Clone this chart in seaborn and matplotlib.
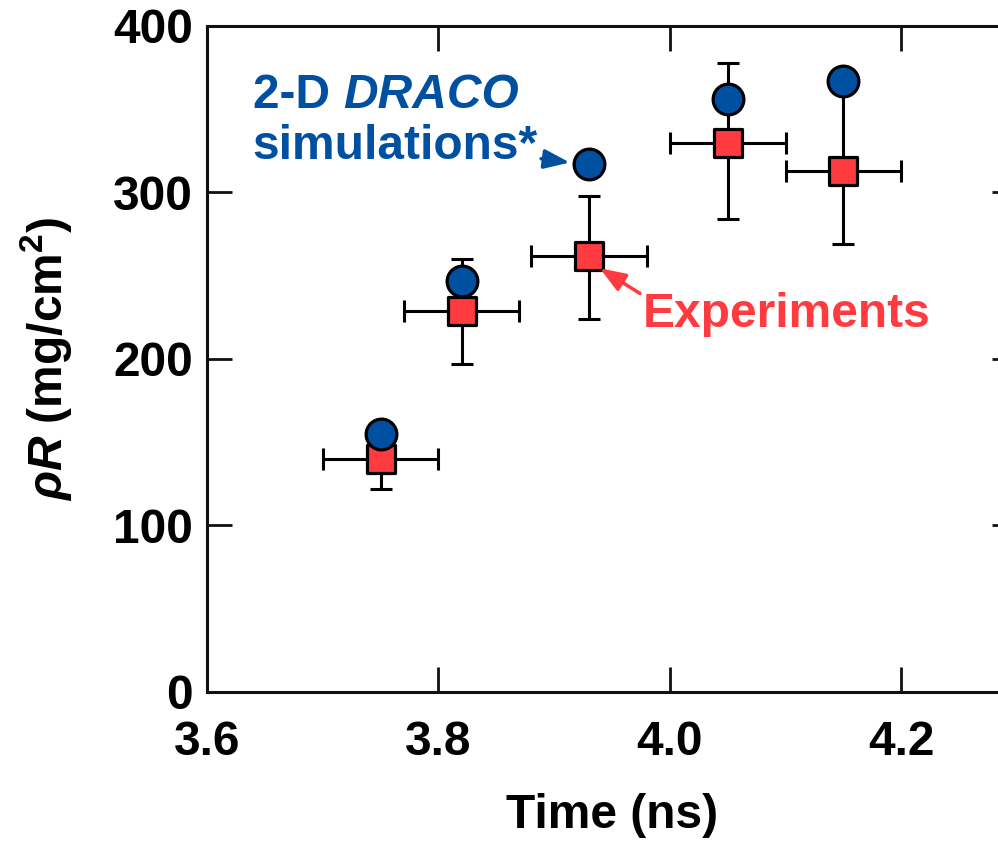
import matplotlib
matplotlib.use("Agg")
import matplotlib.pyplot as plt
import seaborn as sns
import pandas as pd
import numpy as np

# ---- data ----
time_ns = [3.75, 3.82, 3.93, 4.05, 4.15]
sim_rhoR = [155, 247, 317, 356, 367]
exp_rhoR = [140, 229, 262, 330, 313]
exp_low = [122, 197, 224, 284, 269]
exp_high = [158, 260, 298, 378, 365]
exp_xerr = [0.05, 0.05, 0.05, 0.05, 0.05]
x_ticks = [3.6, 3.8, 4.0, 4.2]
x_ticklabels = ["3.6", "3.8", "4.0", "4.2"]
y_ticks = [0, 100, 200, 300, 400]

BLUE = "#0050A2"
RED = "#FF3B40"

sns.set_style("ticks")
plt.rcParams["font.family"] = ["Liberation Sans", "DejaVu Sans"]
plt.rcParams["font.weight"] = "bold"
plt.rcParams["text.color"] = "black"
plt.rcParams["axes.labelcolor"] = "black"
plt.rcParams["xtick.color"] = "black"
plt.rcParams["ytick.color"] = "black"
plt.rcParams["mathtext.fontset"] = "custom"
plt.rcParams["mathtext.rm"] = "Liberation Sans:bold"
plt.rcParams["mathtext.it"] = "Liberation Sans:italic:bold"
plt.rcParams["mathtext.bf"] = "Liberation Sans:bold"

df = pd.DataFrame({"time": time_ns, "sim": sim_rhoR, "exp": exp_rhoR,
                   "lo": exp_low, "hi": exp_high, "xerr": exp_xerr})

fig = plt.figure(figsize=(9.98, 8.41), dpi=100)
ax = fig.add_axes([0.2074, 0.1772, 0.8116, 0.7919])

yerr = np.vstack([df["exp"] - df["lo"], df["hi"] - df["exp"]])
ax.errorbar(df["time"], df["exp"], xerr=df["xerr"], yerr=yerr, fmt="none",
            ecolor="black", elinewidth=2.2, capsize=8, capthick=2.2, zorder=2)

sns.scatterplot(data=df, x="time", y="exp", marker="s", s=380, color=RED,
                edgecolor="black", linewidth=2.3, ax=ax, zorder=3)
sns.scatterplot(data=df, x="time", y="sim", marker="o", s=490, color=BLUE,
                edgecolor="black", linewidth=2.3, ax=ax, zorder=4)

ax.set_xlim(3.6, 4.3)
ax.set_ylim(0, 400)
ax.set_xticks(x_ticks)
ax.set_xticklabels(x_ticklabels)
ax.set_yticks(y_ticks)

FS = 34.5
ax.tick_params(axis="both", which="major", direction="in", length=18, width=2,
               labelsize=FS, top=True, right=True, color="#111111",
               labelcolor="black")
ax.tick_params(axis="x", pad=20)
ax.tick_params(axis="y", pad=10)
for lab in ax.get_xticklabels() + ax.get_yticklabels():
    lab.set_fontweight("bold")
for sp in ax.spines.values():
    sp.set_linewidth(2.2)
    sp.set_color("#111111")

ax.set_xlabel("Time (ns)", fontsize=FS, fontweight="bold", labelpad=20,
              color="black")
ax.set_ylabel(r"$\rho R$ (mg/cm$^2$)", fontsize=FS, fontweight="bold",
              labelpad=28, color="black")

# annotations
arrow_style = "-|>,head_length=0.45,head_width=0.17"
t1 = ax.text(3.6395, 351, "2-D ", color=BLUE, fontsize=FS, fontweight="bold",
             ha="left", va="baseline")
ax.annotate("DRACO", xy=(1, 0), xycoords=t1, ha="left", va="bottom",
            color=BLUE, fontsize=FS, fontweight="bold", fontstyle="italic")
ax.annotate("simulations*", xy=(df["time"][2] - 0.0165, df["sim"][2] + 1),
            xytext=(3.6395, 320), textcoords="data", ha="left", va="baseline",
            color=BLUE, fontsize=FS, fontweight="bold",
            arrowprops=dict(arrowstyle=arrow_style, color=BLUE, lw=2.5,
                            shrinkA=0, shrinkB=0, relpos=(0.955, 0.28)))
ax.annotate("Experiments", xy=(df["time"][2] + 0.0095, df["exp"][2] - 7.5),
            xytext=(3.977, 219), textcoords="data", ha="left", va="baseline",
            color=RED, fontsize=FS, fontweight="bold",
            arrowprops=dict(arrowstyle=arrow_style, color=RED, lw=2.5,
                            shrinkA=0, shrinkB=0, relpos=(-0.005, 0.95)))

fig.savefig("out.png", dpi=100)
